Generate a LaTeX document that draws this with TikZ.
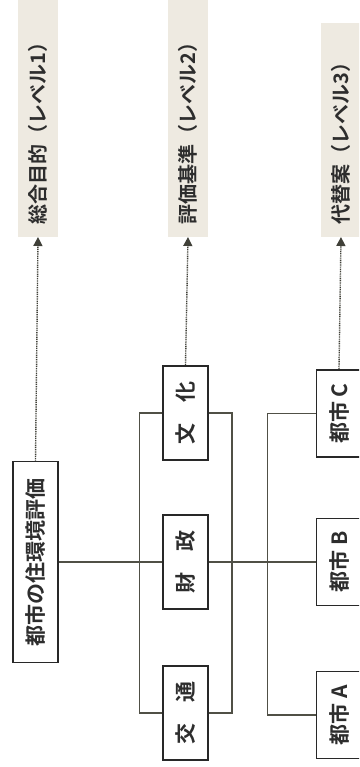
\documentclass[tikz,border=0pt]{standalone}
\usepackage{fontspec}
\usepackage{graphicx}
\setmainfont{Noto Sans CJK JP}[BoldFont={Noto Sans CJK JP Bold}]
\usetikzlibrary{arrows.meta}
\definecolor{boxc}{RGB}{40,40,40}
\definecolor{linec}{RGB}{80,80,70}
\definecolor{lvlc}{RGB}{238,234,225}
\definecolor{txtc}{RGB}{45,45,45}
\begin{document}
\begin{tikzpicture}[x=1pt,y=-1pt,
  box/.style={draw=boxc, line width=1.9pt, fill=white, minimum width=45pt, inner sep=0pt,
    text=txtc, font=\fontsize{21}{21}\selectfont\bfseries},
  lvl/.style={fill=lvlc, rotate=90, anchor=west, minimum height=40pt, inner xsep=12pt, inner ysep=0pt,
    align=left, text=txtc, font=\fontsize{20}{20}\selectfont\bfseries},
  conn/.style={draw=linec, line width=1.1pt},
  dots/.style={draw=linec!80!black, line width=1.4pt, dash pattern=on 1pt off 0.8pt,
    -{Triangle[length=9pt,width=9pt]}}]
\useasboundingbox (0,0) rectangle (359,767);
\clip (0,0) rectangle (359,767);

% level labels
\node[lvl, text width=218pt] (L1) at (38,237) {総合目的（レベル1）};
\node[lvl, text width=218pt] (L2) at (188,237) {評価基準（レベル2）};
\node[lvl, text width=190pt] (L3) at (341,237) {代替案（レベル3）};

% boxes
\node[box, minimum height=201pt] (root) at (35.5,562) {\rotatebox{90}{都市の住環境評価}};
\node[box, minimum height=94pt] (bunka) at (185.5,413) {\rotatebox{90}{文\hspace{1em}化}};
\node[box, minimum height=94pt] (zai) at (185.5,562) {\rotatebox{90}{財\hspace{1em}政}};
\node[box, minimum height=94pt] (kotsu) at (185.5,713) {\rotatebox{90}{交\hspace{1em}通}};
\node[box, minimum height=87pt] (tc) at (339,413.5) {\rotatebox{90}{都市 C}};
\node[box, minimum height=87pt] (tb) at (339,562) {\rotatebox{90}{都市 B}};
\node[box, minimum height=87pt] (ta) at (339,715) {\rotatebox{90}{都市 A}};

% connectors
\draw[conn] (root.east) -- (zai.west);
\draw[conn] (zai.east) -- (tb.west);
\draw[conn] (bunka.west) -- ++(-23,0) |- (kotsu.west);
\draw[conn] (bunka.east) -- ++(23,0) |- (kotsu.east);
\draw[conn] (tc.west) -- ++(-48,0) |- (ta.west);

% dotted arrows
\draw[dots] (root.north) -- (L1.west);
\draw[dots] (bunka.north) -- (L2.west);
\draw[dots] (tc.north) -- (L3.west);
\end{tikzpicture}
\end{document}
